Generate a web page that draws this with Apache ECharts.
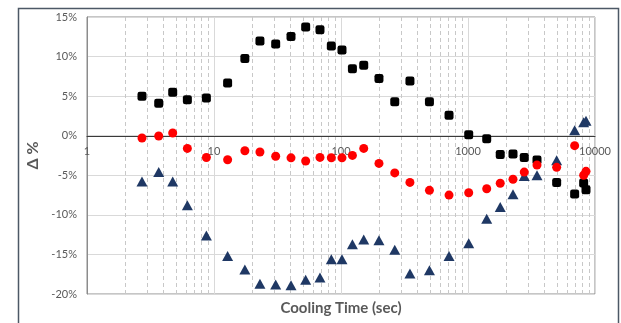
<!DOCTYPE html>
<html>
<head>
<meta charset="utf-8">
<script src="https://cdn.jsdelivr.net/npm/echarts@6/dist/echarts.min.js"></script>
<style>
html,body{margin:0;padding:0;background:#fff;}
#chart{width:621px;height:323px;}
</style>
</head>
<body>
<div id="chart"></div>
<script>
// Cooling time (sec) shared by all series
const coolingTime = [2.71, 3.67, 4.73, 6.17, 8.71, 12.8, 17.5, 23.0, 30.6, 40.4, 52.7, 68.3, 83.9, 101.8, 123, 151, 199, 265, 349, 497, 709, 1013, 1404, 1794, 2261, 2773, 3494, 4990, 6914, 8140, 8495];
// Δ % values
const seriesBlack = [5.0, 4.1, 5.5, 4.55, 4.76, 6.66, 9.77, 11.97, 11.59, 12.55, 13.74, 13.4, 11.34, 10.83, 8.47, 8.89, 7.24, 4.3, 6.92, 4.3, 2.57, 0.13, -0.37, -2.38, -2.3, -2.75, -3.07, -5.92, -7.37, -5.97, -6.83];
const seriesRed = [-0.29, -0.04, 0.34, -1.6, -2.75, -3.03, -1.9, -2.06, -2.6, -2.8, -3.2, -2.74, -2.78, -2.8, -2.49, -1.6, -3.5, -4.7, -5.9, -6.9, -7.5, -7.2, -6.7, -6.0, -5.5, -4.6, -3.7, -4.0, -1.26, -5.0, -4.5];
const seriesBlue = [-5.8, -4.6, -5.8, -8.8, -12.6, -15.2, -16.9, -18.7, -18.8, -18.9, -18.2, -17.9, -15.6, -15.6, -13.7, -13.1, -13.2, -14.4, -17.4, -17.0, -15.2, -13.6, -10.5, -9.0, -7.4, -5.1, -5.0, -3.1, 0.7, 1.7, 1.9];
const xTickLabels = ['1', '10', '100', '1000', '10000'];
const yTickLabels = ['-20%', '-15%', '-10%', '-5%', '0%', '5%', '10%', '15%'];

const pairs = (ys) => coolingTime.map((x, i) => [x, ys[i]]);
const FONT = 'Lato, "Open Sans", "Liberation Sans", sans-serif';

const chart = echarts.init(document.getElementById('chart'), null, {renderer: 'canvas'});
chart.setOption({
  animation: false,
  backgroundColor: '#ffffff',
  grid: {left: 87, top: 17, width: 508, height: 277, outerBoundsMode: 'none', containLabel: false,
    show: true, borderColor: '#8c8c8c', borderWidth: 1, backgroundColor: 'transparent'},
  graphic: [{
    type: 'rect', left: 16, top: 6, silent: true,
    shape: {width: 600, height: 340},
    style: {fill: 'none', stroke: '#4d5866', lineWidth: 1.5}
  }],
  xAxis: {
    type: 'log', logBase: 10, min: 1, max: 10000,
    position: 'bottom', offset: -158,
    name: 'Cooling Time (sec)', nameLocation: 'middle', nameGap: 165,
    nameTextStyle: {fontFamily: FONT, fontSize: 15, fontWeight: 'bold', color: '#595959'},
    axisLine: {show: true, onZero: false, lineStyle: {color: '#3a3a3a', width: 1}},
    axisTick: {show: false},
    axisLabel: {fontFamily: FONT, fontSize: 11, color: '#595959', margin: 10,
      formatter: (v) => { const s = String(Math.round(v)); return xTickLabels.indexOf(s) >= 0 ? s : ''; }},
    splitLine: {show: true, lineStyle: {color: '#d9d9d9', width: 1}},
    minorTick: {show: false, splitNumber: 9},
    minorSplitLine: {show: true, lineStyle: {color: '#c8c8c8', width: 1, type: [4, 3]}}
  },
  yAxis: {
    type: 'value', min: -20, max: 15, interval: 5,
    name: 'Δ %', nameLocation: 'middle', nameGap: 29, nameRotate: 90,
    nameTextStyle: {fontFamily: FONT, fontSize: 16, fontWeight: 'bold', color: '#595959'},
    axisLine: {show: true, lineStyle: {color: '#8c8c8c'}},
    axisTick: {show: false},
    axisLabel: {fontFamily: FONT, fontSize: 11, color: '#595959', margin: 10,
      formatter: (v) => { const s = Math.round(v) + '%'; return yTickLabels.indexOf(s) >= 0 ? s : ''; }},
    splitLine: {show: true, lineStyle: {color: '#d9d9d9', width: 1}}
  },
  series: [
    {name: 'Black', type: 'scatter', data: pairs(seriesBlack), symbol: 'roundRect', symbolSize: 9, itemStyle: {color: '#000000', opacity: 1}, z: 3},
    {name: 'Blue', type: 'scatter', data: pairs(seriesBlue), symbol: 'triangle', symbolSize: [11, 10], itemStyle: {color: '#1f3864', opacity: 1}, z: 4},
    {name: 'Red', type: 'scatter', data: pairs(seriesRed), symbol: 'circle', symbolSize: 9, itemStyle: {color: '#ff0000', opacity: 1}, z: 5}
  ]
});
</script>
</body>
</html>
